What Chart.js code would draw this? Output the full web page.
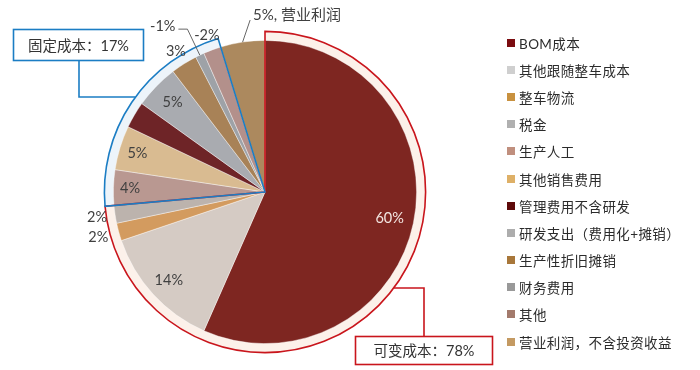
<!DOCTYPE html>
<html>
<head>
<meta charset="utf-8">
<script src="https://cdn.jsdelivr.net/npm/chart.js@4.4.1/dist/chart.umd.min.js"></script>
<style>
  html, body { margin: 0; padding: 0; background: #fff; }
  #wrap { position: relative; width: 700px; height: 370px; }
  #legend { position: absolute; left: 507px; top: 29px; font-family: Lato, "Noto Sans CJK SC"; font-size: 13.5px; color: #2b2b2b; }
  #legend .item { height: 27.2px; display: flex; align-items: center; white-space: nowrap; letter-spacing: 0.4px; }
  #legend .box { width: 8px; height: 8px; margin-right: 4px; display: inline-block; }
</style>
</head>
<body>
<div id="wrap">
  <canvas id="chart" width="700" height="370"></canvas>
  <div id="legend"></div>
</div>
<script>
// cost structure, share of revenue (%)
const categories = ['BOM成本', '其他跟随整车成本', '整车物流', '税金', '生产人工', '其他销售费用',
  '管理费用不含研发', '研发支出（费用化+摊销）', '生产性折旧摊销', '财务费用', '其他', '营业利润，不含投资收益'];
const shares = [60, 14, 2, 2, 4, 5, 3, 5, 3, -1, -2, 5];
const sliceColors = ['#7e2621', '#d5cbc4', '#d39b5f', '#bcb3ad', '#b99891', '#d9bb91',
  '#6e2427', '#a9abb0', '#a88257', '#9ea2a7', '#b3908b', '#ac895e'];
const legendColors = ['#7b0c10', '#cfcfcf', '#c8913f', '#b0b0b0', '#c08f7e', '#deb067',
  '#5e0a0a', '#adadad', '#a8773a', '#999999', '#a37a6c', '#c49a62'];

// groups drawn as outlined sectors
const groupNames = ['可变成本', '固定成本'];
const groupTotals = [78, 17];
const groupFirst = [0, 4];
const groupLast = [3, 10];
const groupLine = ['#c9151c', '#1b7dc4'];
const groupBand = ['#fcf1ea', '#edf4fa'];

const BAND = 9;
const textColor = '#404040';

const legendEl = document.getElementById('legend');
legendEl.innerHTML = categories
  .map((c, i) => `<div class="item"><span class="box" style="background:${legendColors[i]}"></span>${c}</div>`)
  .join('');

// label placement per slice: radius factor, or null to skip
const labelRadius = [0.84, 0.86, 1.14, 1.12, 0.89, 0.88, null, 0.85, 1.1, 'leader', 1.1, 'profit'];

function sectorPath(ctx, x, y, r, a0, a1) {
  ctx.beginPath();
  ctx.moveTo(x, y);
  ctx.arc(x, y, r, a0, a1);
  ctx.closePath();
}

const groupPlugin = {
  id: 'groups',
  beforeDatasetsDraw(chart) {
    const arcs = chart.getDatasetMeta(0).data;
    const ctx = chart.ctx;
    const { x, y, outerRadius } = arcs[0];
    groupFirst.forEach((f, g) => {
      ctx.save();
      sectorPath(ctx, x, y, outerRadius + BAND, arcs[f].startAngle, arcs[groupLast[g]].endAngle);
      ctx.fillStyle = groupBand[g];
      ctx.fill();
      ctx.restore();
    });
  },
  afterDatasetsDraw(chart) {
    const arcs = chart.getDatasetMeta(0).data;
    const ctx = chart.ctx;
    const { x, y, outerRadius: R } = arcs[0];
    const ringR = R + BAND;

    // sector outlines
    groupFirst.forEach((f, g) => {
      ctx.save();
      sectorPath(ctx, x, y, ringR, arcs[f].startAngle, arcs[groupLast[g]].endAngle);
      ctx.strokeStyle = groupLine[g];
      ctx.lineWidth = 1.6;
      ctx.stroke();
      ctx.restore();
    });

    // slice labels
    ctx.save();
    ctx.font = '14.5px Lato, "Noto Sans CJK SC"';
    ctx.textBaseline = 'middle';
    ctx.textAlign = 'center';
    arcs.forEach((arc, i) => {
      const rf = labelRadius[i];
      if (rf === null) return;
      const mid = (arc.startAngle + arc.endAngle) / 2;
      const txt = shares[i] + '%';
      if (rf === 'leader') {
        const p0 = [x + Math.cos(mid) * R, y + Math.sin(mid) * R];
        const p1 = [x + Math.cos(mid) * R * 1.19, y + Math.sin(mid) * R * 1.19];
        const p2 = [p1[0] - 9, p1[1]];
        ctx.strokeStyle = '#666';
        ctx.lineWidth = 1;
        ctx.beginPath(); ctx.moveTo(...p0); ctx.lineTo(...p1); ctx.lineTo(...p2); ctx.stroke();
        ctx.fillStyle = textColor;
        ctx.textAlign = 'right';
        ctx.fillText(txt, p2[0] - 3, p2[1] - 3);
        ctx.textAlign = 'center';
        return;
      }
      if (rf === 'profit') {
        const p0 = [x + Math.cos(mid) * R, y + Math.sin(mid) * R];
        const p1 = [p0[0] + 7.5, p0[1] - 22];
        ctx.strokeStyle = '#666';
        ctx.lineWidth = 1;
        ctx.beginPath(); ctx.moveTo(...p0); ctx.lineTo(...p1); ctx.stroke();
        ctx.fillStyle = textColor;
        ctx.textAlign = 'left';
        ctx.font = '15px Lato, "Noto Sans CJK SC"';
        ctx.fillText(txt + ', 营业利润', p1[0] + 3, p1[1] - 5);
        ctx.font = '14.5px Lato, "Noto Sans CJK SC"';
        ctx.textAlign = 'center';
        return;
      }
      ctx.fillStyle = i === 0 ? '#f3e6e2' : textColor;
      ctx.fillText(txt, x + Math.cos(mid) * R * rf, y + Math.sin(mid) * R * rf);
    });
    ctx.restore();

    // callout boxes
    const boxes = [
      { g: 0, bx: 355.5, by: 336.5, bw: 137, bh: 28, lx: 424, ly: 288 },
      { g: 1, bx: 13.5, by: 29.5, bw: 130, bh: 31, lx: 79, ly: 97 }
    ];
    boxes.forEach(b => {
      const above = b.ly < b.by;
      const dy = b.ly - y;
      const side = b.g === 0 ? 1 : -1;
      const ax = x + side * Math.sqrt(ringR * ringR - dy * dy);
      ctx.save();
      ctx.strokeStyle = groupLine[b.g];
      ctx.lineWidth = 1.6;
      ctx.beginPath();
      ctx.moveTo(b.lx, above ? b.by : b.by + b.bh);
      ctx.lineTo(b.lx, b.ly);
      ctx.lineTo(ax, b.ly);
      ctx.stroke();
      ctx.fillStyle = '#fff';
      ctx.fillRect(b.bx, b.by, b.bw, b.bh);
      ctx.strokeRect(b.bx, b.by, b.bw, b.bh);
      ctx.fillStyle = '#333';
      ctx.font = '14.5px Lato, "Noto Sans CJK SC"';
      ctx.textAlign = 'center';
      ctx.textBaseline = 'middle';
      ctx.fillText(groupNames[b.g] + '：' + groupTotals[b.g] + '%', b.bx + b.bw / 2, b.by + b.bh / 2 + 1);
      ctx.restore();
    });
  }
};

new Chart(document.getElementById('chart'), {
  type: 'pie',
  data: {
    labels: categories,
    datasets: [{
      data: shares.map(v => Math.abs(v)),
      backgroundColor: sliceColors,
      borderColor: 'rgba(255,255,255,0.5)',
      borderWidth: 0.8
    }]
  },
  options: {
    responsive: false,
    devicePixelRatio: 1,
    animation: false,
    layout: { padding: { top: 40, bottom: 26, left: 113, right: 283 } },
    plugins: {
      legend: { display: false },
      tooltip: { enabled: false }
    }
  },
  plugins: [groupPlugin]
});
</script>
</body>
</html>
